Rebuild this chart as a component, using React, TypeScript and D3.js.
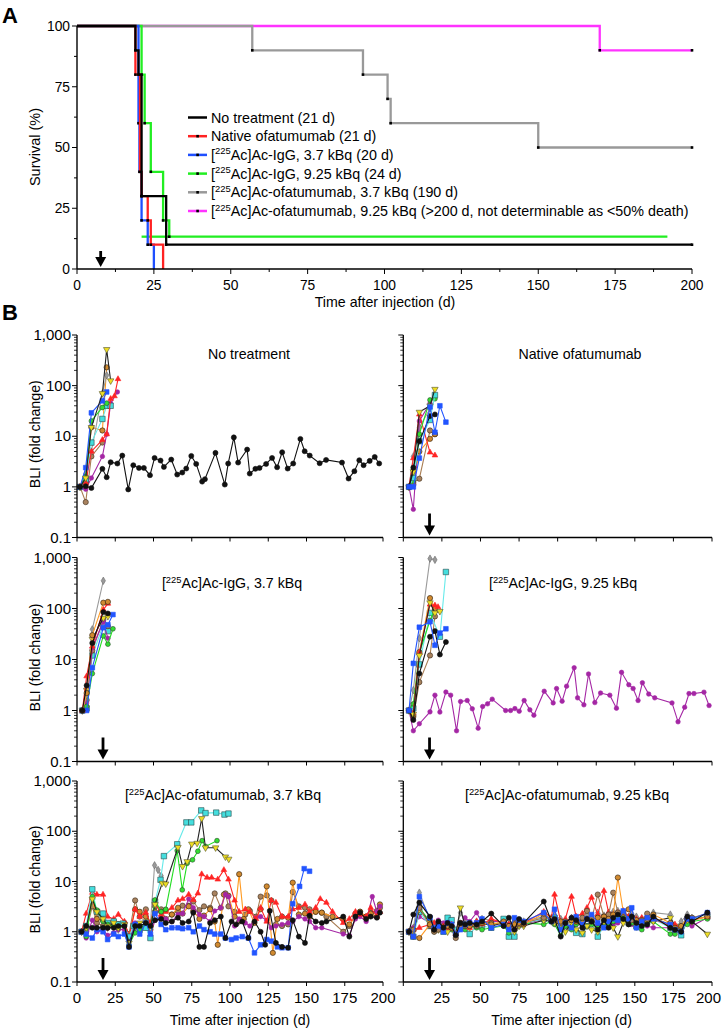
import React from 'react';
import * as d3 from 'd3';

type Pt = [number, number];

// ---------------- Panel A: survival ----------------
const survXTicks = [0, 25, 50, 75, 100, 125, 150, 175, 200];
const survYTicks = [0, 25, 50, 75, 100];

const survNoTreatment: Pt[] = [[0, 100], [19, 90], [20, 80], [21, 30], [29, 10]];
const survNative: Pt[] = [[0, 100], [19, 80], [20.5, 40], [21, 30], [23, 20], [24, 10], [28, 0]];
const survIgG37: Pt[] = [[0, 100], [20, 60], [20.3, 40], [21, 20], [23, 10], [25, 0]];
const survIgG925: Pt[] = [[0, 100], [21, 80], [22, 60], [24, 40], [28, 20], [30, 13.3]];
const survOfa37: Pt[] = [[0, 100], [57, 90], [93, 80], [101, 70], [102, 60], [150, 50]];
const survOfa925: Pt[] = [[0, 100], [170, 90]];
const survIgG925Tail: Pt[] = [[21, 13.3], [30, 13.3]];
const survEnds = [200, 28, 25, 192, 200, 200];
const survEndDots = [true, false, false, false, true, true];
const survNames = [
  'No treatment (21 d)',
  'Native ofatumumab (21 d)',
  '[225Ac]Ac-IgG, 3.7 kBq (20 d)',
  '[225Ac]Ac-IgG, 9.25 kBq (24 d)',
  '[225Ac]Ac-ofatumumab, 3.7 kBq (190 d)',
  '[225Ac]Ac-ofatumumab, 9.25 kBq (>200 d, not determinable as <50% death)',
];
const survColors = ['#000000', '#ff2222', '#1f4fff', '#22ee22', '#999999', '#ff33ff'];
const survCurves = [survNoTreatment, survNative, survIgG37, survIgG925, survOfa37, survOfa925];
const survArrowDay = 7.7;

// ---------------- Panel B: BLI ----------------
const bliYTicks = [0.1, 1, 10, 100, 1000];
const bliYTickLabels = ['0.1', '1', '10', '100', '1,000'];
const bliXTicks = [0, 25, 50, 75, 100, 125, 150, 175, 200];
const bliArrowDay = 17;

// No treatment
const p1Black: Pt[] = [[2, 1], [5.7, 1.03], [9.4, 0.95], [16.6, 2.27], [19.4, 1.55], [22, 3.07], [26.4, 2.89], [29.6, 4.15], [33.5, 0.89], [36.8, 2.68], [40.5, 2.37], [43.7, 2.37], [47.7, 1.7], [50.7, 3.73], [54.6, 3.31], [56.8, 2.48], [61.6, 3.46], [65.5, 1.75], [68.8, 1.92], [71.4, 2.3], [74.7, 4.09], [77.9, 2.84], [81.8, 1.27], [83.6, 1.42], [90.5, 4.69], [96.6, 1.11], [98.8, 2.89], [102.5, 9.5], [105.3, 3.02], [111.2, 5.46], [112.9, 1.83], [116.6, 2.27], [119.3, 2.37], [123.6, 2.84], [127.5, 3.73], [130.8, 2.44], [134.1, 4.83], [137.7, 2.3], [141.3, 2.89], [146, 8.86], [148.8, 5.06], [152.1, 4.15], [158.6, 2.93], [162.8, 3.41], [173.2, 3.02], [177.5, 1.46], [181.3, 2.04], [184.5, 3.36], [187.3, 2.68], [191.3, 3.26], [194.6, 3.9], [197.5, 2.9]];
const p1Red: Pt[] = [[2, 1], [5.7, 1.2], [9.4, 5], [16.6, 8.5], [19.4, 11], [22, 55], [24.5, 62], [26.8, 135]];
const p1Blue: Pt[] = [[2, 1], [5.7, 2.4], [9.4, 29], [16.6, 50], [19.4, 75]];
const p1Green: Pt[] = [[2, 1], [5.7, 1.6], [9.4, 20], [16.6, 37], [19.4, 45]];
const p1Cyan: Pt[] = [[2, 1], [5.7, 1.4], [9.4, 7.5], [16.6, 22], [19.4, 40], [22, 40]];
const p1Yellow: Pt[] = [[2, 1], [5.7, 1.5], [9.4, 15], [16.6, 70], [19.4, 520], [22, 125]];
const p1Orange: Pt[] = [[2, 1], [5.7, 1.2], [9.4, 15], [16.6, 13], [19.4, 230]];
const p1Purple: Pt[] = [[2, 1], [5.7, 0.9], [9.4, 1.5], [16.6, 4], [19.4, 11], [22, 45], [26.4, 75]];
const p1Tan: Pt[] = [[2, 1], [5.7, 0.5], [9.4, 4], [16.6, 7.5]];
const p1Gray: Pt[] = [[2, 1], [5.7, 1.8], [9.4, 5], [16.6, 70], [19.4, 160]];

// Native ofatumumab
const p2Black: Pt[] = [[3.7, 1], [6.5, 2.4], [10.4, 8], [17.3, 25], [20.5, 27]];
const p2Red: Pt[] = [[3.7, 1], [6.5, 3.7], [10.4, 27], [17.3, 4.8], [20.5, 4.2]];
const p2Blue: Pt[] = [[3.7, 1], [6.5, 1], [10.4, 3.7], [17.3, 38], [20.5, 12], [23.7, 40], [27.6, 19]];
const p2Green: Pt[] = [[3.7, 1], [6.5, 1.3], [10.4, 11], [17.3, 52], [20.5, 55]];
const p2Cyan: Pt[] = [[3.7, 1], [6.5, 1.5], [10.4, 8], [17.3, 21], [20.5, 65]];
const p2Yellow: Pt[] = [[3.7, 1], [6.5, 2], [10.4, 30], [17.3, 40], [20.5, 85]];
const p2Purple: Pt[] = [[3.7, 1], [6.5, 0.36], [10.4, 20], [17.3, 45]];
const p2Orange: Pt[] = [[3.7, 1], [6.5, 1.1], [10.4, 5], [17.3, 8.9], [20.5, 11]];
const p2Tan: Pt[] = [[3.7, 1], [6.5, 1.2], [10.4, 1.45], [17.3, 13], [20.5, 11]];
const p2Gray: Pt[] = [[3.7, 1], [6.5, 4], [10.4, 15], [17.3, 35]];

// IgG 3.7 kBq
const p3Black: Pt[] = [[3.5, 1], [6.3, 3.1], [10, 21], [17.2, 85], [20.2, 80]];
const p3Gray: Pt[] = [[3.5, 1], [6.3, 2], [10, 39], [17.2, 350]];
const p3Orange: Pt[] = [[3.5, 1], [6.3, 2.2], [10, 30], [17.2, 130], [20.2, 135]];
const p3Red: Pt[] = [[3.5, 1], [6.3, 4.7], [10, 18], [17.2, 95], [20.2, 125]];
const p3Blue: Pt[] = [[3.5, 1], [6.3, 1], [10, 6.9], [17.2, 42], [20.2, 48], [23.5, 76]];
const p3Green: Pt[] = [[3.5, 1], [6.3, 1.2], [10, 5.3], [17.2, 29], [20.2, 20], [23.5, 40]];
const p3Purple: Pt[] = [[3.5, 1], [6.3, 1.4], [10, 17], [17.2, 55], [20.2, 26]];
const p3Tan: Pt[] = [[3.5, 1], [6.3, 1.6], [10, 15], [17.2, 60], [20.2, 45]];
const p3Yellow: Pt[] = [[3.5, 1], [6.3, 2.5], [10, 25], [17.2, 65], [20.2, 70]];
const p3Cyan: Pt[] = [[3.5, 1], [6.3, 1.1], [10, 12], [17.2, 48], [20.2, 36]];

// IgG 9.25 kBq
const p4Purple: Pt[] = [[3.7, 1], [6.5, 0.4], [10.4, 0.55], [17.3, 0.94], [20.5, 2.0], [23.7, 0.93], [27.6, 2.3], [30.7, 2.0], [34.5, 0.4], [37.1, 1.5], [41.4, 1.57], [44.7, 1.08], [48.5, 0.45], [51.4, 1.2], [54.6, 1.35], [57.6, 1.67], [66.3, 1.0], [69.5, 1.0], [72.3, 1.09], [75.1, 0.97], [78.3, 1.57], [82, 1.03], [84.6, 0.81], [91.3, 2.39], [97.1, 1.41], [99.3, 2.7], [102.9, 1.52], [105.8, 3.0], [110.7, 6.9], [112.9, 1.77], [117, 1.29], [120, 5.2], [124.1, 1.43], [127.8, 2.2], [133.8, 2.0], [138.1, 1.11], [141.4, 5.6], [146.1, 3.2], [148.9, 2.7], [152.1, 1.57], [154.9, 3.5], [159, 2.1], [162.9, 1.77], [174.1, 1.41], [178, 0.6], [182.3, 1.16], [185.1, 2.15], [188.3, 2.15], [194.8, 2.29], [198.1, 1.25]];
const p4Gray: Pt[] = [[3.7, 1], [6.5, 2.5], [10.4, 26], [17.3, 950], [20.5, 900]];
const p4Cyan: Pt[] = [[3.7, 1], [6.5, 1.1], [10.4, 8], [17.3, 82], [23.7, 28], [27.6, 520]];
const p4Blue: Pt[] = [[3.7, 1], [6.5, 8.4], [10.4, 43], [17.3, 55], [20.5, 19], [23.7, 33], [27.6, 40]];
const p4Black: Pt[] = [[3.7, 1], [6.5, 0.65], [10.4, 5.3], [17.3, 28], [20.5, 36], [23.7, 12.5], [27.6, 22]];
const p4Orange: Pt[] = [[3.7, 1], [6.5, 0.8], [10.4, 14], [17.3, 160], [20.5, 98]];
const p4Red: Pt[] = [[3.7, 1], [6.5, 0.9], [10.4, 13.5], [17.3, 120], [20.5, 115], [22.5, 107]];
const p4Green: Pt[] = [[3.7, 1], [6.5, 1.35], [10.4, 13.5], [17.3, 58], [20.5, 98]];
const p4Yellow: Pt[] = [[3.7, 1], [6.5, 0.85], [10.4, 12], [17.3, 130], [20.5, 82], [23.7, 88]];
const p4Tan: Pt[] = [[3.7, 1], [6.5, 0.75], [10.4, 3.6], [17.3, 12], [20.5, 70]];

// Ofatumumab 3.7 kBq
const p5Cyan: Pt[] = [[3, 1], [6, 1.3], [10, 7], [13, 2.5], [17, 2.3], [20, 1.5], [24, 1.6], [27, 1.4], [30, 1.45], [34, 0.8], [37, 1.3], [41, 1.1], [45, 1.2], [48, 0.75], [51, 4], [54.6, 10.8], [56.8, 32], [65.5, 55], [71.5, 150], [74.7, 150], [81.2, 260], [84, 230], [91, 235], [96.4, 215], [99, 225]];
const p5Yellow: Pt[] = [[3, 1], [6, 1.2], [10, 4.5], [13, 2.5], [17, 1.8], [20, 1.3], [24, 1.5], [27, 1.2], [31, 1.4], [34, 0.6], [38, 1.3], [41, 1.5], [45, 1.6], [48, 1.2], [51, 3.5], [55.7, 9.3], [58, 9], [66, 48], [69, 20], [72, 25], [75, 56], [78.5, 58], [81.5, 180], [84, 47], [90.6, 47], [97, 31], [99.2, 28]];
const p5Green: Pt[] = [[3, 1], [6, 0.8], [10, 5], [13, 2.7], [17, 1.6], [20, 1.4], [24, 1.3], [27, 1.2], [31, 1.3], [34, 0.55], [38, 0.95], [41, 1.1], [45, 1.5], [48, 1.2], [51, 4.3], [55, 2.5], [58, 2.8], [65.5, 41], [68.8, 6.8], [72, 23], [75.5, 27], [79, 40], [81.8, 65], [84, 50], [91.5, 65]];
const p5Gray: Pt[] = [[3, 1], [6, 1.2], [10, 3.5], [13, 2], [17, 2.2], [20, 1.2], [24, 1.3], [27, 1.1], [31, 1.3], [34, 0.7], [38, 1.2], [41, 1.3], [45, 1.5], [48, 1.4], [50.7, 21], [53, 17], [55, 13]];
const p5Red: Pt[] = [[3, 1], [6, 2.3], [10, 6], [13, 5.5], [17, 5.5], [20, 2.0], [24, 1.8], [27, 2.2], [31, 1.6], [34, 0.8], [38, 2.8], [41, 2.0], [45, 2.4], [48, 1.5], [51, 3.8], [55, 2.2], [58, 2.5], [62, 3.0], [66, 4.2], [69, 4.5], [73, 5.5], [76, 4.3], [79, 5.8], [81.5, 14], [85, 12], [88, 12], [92, 11], [96, 17], [99, 11], [103, 4.2], [106, 2.5], [110, 2.8], [113, 2.5], [117, 1.8], [120, 3], [124, 1.6], [127, 4.2], [130, 3.8], [134, 2], [138, 2], [141, 2.8], [145, 3], [149, 3.5], [152, 2.5], [156, 3], [159, 4.5], [163, 3.8], [167, 2.5], [174, 1.5], [178, 1.8], [182, 2.5], [185, 2.2], [189, 2], [192, 3], [196, 2], [198, 2.5]];
const p5Blue: Pt[] = [[3, 1], [6, 0.9], [10, 0.75], [13, 1.1], [17, 1.0], [20, 0.7], [24, 0.9], [27, 0.8], [31, 0.9], [34, 0.5], [38, 1.4], [41, 0.9], [45, 1.5], [48, 0.9], [51, 2.3], [55, 1.4], [58, 1.1], [62, 1.2], [66, 1.2], [69, 1.15], [73, 1.2], [76, 1.0], [80, 1.3], [83, 1.1], [87, 1.0], [90, 0.9], [94, 0.9], [97, 0.75], [101, 0.7], [104, 0.75], [108, 0.8], [112, 0.75], [116, 0.38], [120, 0.55], [124, 0.7], [127, 0.65], [131, 0.5], [134, 0.48], [138, 0.48], [141, 3.6], [145.5, 8], [148.5, 18], [152, 16]];
const p5Black: Pt[] = [[3, 1], [6, 1.3], [10, 1.2], [13, 1.2], [17, 1.2], [20, 1.2], [24, 1.2], [27, 1.3], [31, 1.3], [34, 0.5], [38, 1.3], [41, 1.3], [45, 1.5], [48, 1.3], [51, 1.7], [55, 1.8], [58, 1.5], [62, 1.6], [66, 1.9], [69, 1.5], [73, 1.6], [76, 2.4], [80, 0.5], [83, 0.5], [87, 1.5], [90, 1.7], [94, 2.0], [97, 0.75], [101, 1.6], [104, 1.4], [108, 1.6], [112, 0.75], [116, 1.6], [120, 1.0], [123, 0.55], [126, 2.6], [130, 0.6], [134, 0.5], [138, 0.48], [141, 1.7], [145, 0.8], [149, 0.6], [152, 2.1], [156, 1.6], [160, 1.5], [163, 1.6], [174, 2.0], [178, 0.8], [182, 2.0], [185, 2.4], [189, 1.8], [192, 2.0], [196, 1.9], [198, 2.4]];
const p5Purple: Pt[] = [[3, 1], [6, 0.75], [10, 1.7], [13, 1.0], [17, 1.1], [20, 0.85], [24, 0.95], [27, 1.1], [31, 1.1], [34, 0.7], [38, 1.5], [41, 1.1], [45, 1.2], [48, 0.85], [51, 1.7], [55, 2.0], [58, 1.8], [62, 1.6], [66, 2.2], [69, 2.3], [73, 4.5], [76, 3], [80, 2.2], [83, 2.0], [87, 1.6], [90, 2.6], [94, 3], [97, 5.5], [99, 5.0], [103, 1.3], [106, 1.8], [110, 1.5], [113, 1.3], [117, 1.9], [120, 2], [124, 1.7], [127, 1.2], [130, 1.3], [134, 1.4], [138, 1.5], [141, 1.6], [145, 2], [149, 1.8], [152, 1.6], [156, 1.2], [160, 1.2], [174, 0.9], [178, 0.85], [182, 1.8], [185, 2.0], [189, 1.6], [193, 5], [196, 2.5], [198, 3.2]];
const p5Orange: Pt[] = [[3, 1], [6, 1.2], [10, 4.5], [13, 1.8], [17, 1.7], [20, 1.2], [24, 1.3], [27, 1.4], [31, 1.5], [34, 0.8], [38, 2.8], [41, 2.5], [45, 2.0], [48, 1.4], [51, 2.5], [55, 2.5], [58, 2.7], [62, 2.2], [66, 3.0], [69, 2.3], [73, 3.2], [76, 2.6], [80, 1.8], [83, 2.1], [87, 2.8], [90, 1.6], [92, 0.55], [96, 5.5], [99, 5.2], [103, 2.0], [106, 14], [109, 1.8], [112, 2.8], [116, 1.5], [120, 2.8], [124, 8], [128, 0.38], [131, 1.8], [134, 2.0], [138, 1.9], [141, 9.5], [145, 2.2], [149, 2.3], [152, 2.0], [156, 2.5], [160, 2.4], [167, 2.0], [174, 1.8], [178, 1.4], [182, 2.0], [185, 2.5], [189, 2.0], [192, 2.3], [196, 2.0], [198, 3.5]];
const p5Tan: Pt[] = [[3, 1], [6, 1.0], [10, 3.2], [13, 1.5], [17, 1.3], [20, 1.3], [24, 1.5], [27, 1.4], [31, 1.4], [34, 0.9], [38, 4.2], [41, 2.0], [45, 2.8], [48, 1.1], [51, 3.2], [55, 2.8], [58, 1.8], [62, 2.2], [66, 2.6], [69, 3.3], [73, 3.3], [76, 4.0], [80, 2.7], [83, 3.2], [87, 3.0], [90, 5.8], [94, 3.0], [97, 5.8], [99, 3.2], [103, 2.5], [106, 1.6], [110, 2.2], [113, 2.6], [117, 2.0], [120, 5.0], [124, 5.3], [127, 4.2], [130, 1.4], [134, 1.3], [138, 1.4], [141, 6.2], [145, 3.2], [149, 3.0], [152, 2.8], [156, 2.5], [160, 2.4], [163, 2.0], [174, 1.0], [178, 1.3], [182, 2.3], [185, 2.5], [189, 2.0], [192, 2.4], [196, 2.6], [198, 3.0]];

// Ofatumumab 9.25 kBq (shared imaging days)
const p6Days = [3.7, 6.5, 10.4, 17.3, 20, 22.7, 26, 28.7, 31.3, 34, 37, 40, 43, 47.5, 51, 57, 65, 68.4, 72, 75, 78, 91, 96, 98, 102, 105, 109, 112, 116, 119, 122, 126, 130, 133, 136, 139, 142.5, 146, 148, 151, 154.5, 158, 162, 173, 176, 180, 184, 187, 197];
const p6Black = [1, 2.2, 3.8, 2.0, 1.1, 1.6, 1.2, 1.5, 1.3, 0.85, 1.5, 1.4, 1.5, 1.4, 1.6, 2.3, 1.3, 1.9, 1.1, 1.8, 1.5, 4.0, 1.6, 1.8, 0.8, 1.5, 1.9, 1.7, 1.2, 1.8, 1.6, 1.1, 1.7, 1.2, 1.9, 2.2, 1.8, 1.4, 2.0, 1.5, 1.3, 1.4, 2.0, 1.2, 1.1, 1.0, 2.0, 1.6, 2.4];
const p6Red = [1, 1.1, 1.2, 1.4, 1.5, 1.2, 1.3, 1.2, 1.4, 0.9, 1.3, 1.3, 1.2, 1.6, 1.4, 1.8, 1.5, 1.4, 1.2, 1.6, 1.5, 2.5, 1.9, 5.5, 1.6, 1.8, 5.0, 2.0, 2.3, 3.0, 4.8, 2.2, 6.5, 2.4, 2.2, 2.4, 2.6, 2.0, 1.7, 1.8, 1.9, 2.0, 1.8, 1.3, 1.4, 1.1, 1.9, 1.7, 2.0];
const p6Blue = [1, 0.8, 5.0, 1.9, 1.2, 1.3, 1.0, 1.5, 1.4, 0.9, 1.1, 1.4, 1.5, 1.5, 1.8, 1.2, 1.4, 1.1, 1.9, 1.7, 1.6, 2.4, 1.6, 2.8, 1.1, 1.5, 1.2, 2.0, 1.4, 1.8, 2.2, 1.5, 1.2, 1.6, 1.8, 1.7, 2.6, 1.8, 3.0, 1.2, 1.6, 1.9, 1.8, 1.4, 1.1, 1.0, 1.8, 1.8, 2.4];
const p6Green = [1, 1.1, 3.0, 1.6, 1.0, 1.2, 1.3, 1.1, 1.1, 0.9, 1.3, 1.1, 1.3, 1.2, 1.1, 1.2, 1.3, 0.95, 1.5, 1.3, 1.5, 1.4, 1.6, 1.4, 0.85, 1.3, 1.1, 1.4, 1.6, 1.3, 1.4, 1.2, 1.5, 1.3, 1.6, 2.3, 2.0, 1.4, 1.5, 1.2, 1.1, 1.5, 1.6, 0.9, 0.9, 1.3, 1.4, 1.6, 1.8];
const p6Gray = [1, 1.2, 6.0, 1.7, 1.4, 1.3, 1.2, 1.4, 1.3, 0.9, 2.4, 1.6, 1.4, 1.6, 1.8, 1.7, 1.5, 1.4, 1.7, 1.5, 1.6, 2.0, 1.9, 2.1, 1.8, 1.6, 1.9, 1.8, 1.5, 2.3, 1.8, 2.4, 2.1, 2.4, 2.5, 2.6, 2.2, 2.0, 2.3, 2.0, 1.8, 2.0, 2.4, 2.2, 1.2, 1.6, 2.2, 1.9, 2.2];
const p6Cyan = [1, 0.8, 2.5, 1.3, 1.2, 1.3, 1.0, 1.9, 1.7, 1.1, 1.2, 1.3, 0.9, 1.3, 1.3, 1.2, 1.8, 0.8, 0.8, 1.4, 1.5, 1.8, 1.7, 1.9, 1.2, 1.3, 1.2, 0.95, 0.9, 1.3, 1.5, 0.8, 1.3, 1.5, 1.7, 1.9, 1.8, 1.5, 1.6, 1.3, 1.4, 1.6, 1.8, 1.2, 1.1, 0.85, 1.6, 1.8, 2.0];
const p6Yellow = [1, 1.0, 2.8, 1.5, 1.3, 1.1, 1.2, 1.0, 1.2, 0.9, 3.0, 1.3, 1.2, 1.4, 1.5, 1.3, 1.5, 1.2, 1.0, 1.3, 1.3, 1.7, 1.6, 1.5, 1.4, 1.0, 1.5, 1.1, 0.95, 1.3, 1.1, 1.0, 1.6, 1.8, 1.2, 0.8, 1.5, 2.0, 1.8, 1.3, 1.5, 1.6, 1.6, 1.9, 1.3, 1.1, 1.7, 1.6, 0.9];
const p6Purple = [1, 1.2, 2.0, 1.5, 1.4, 1.7, 1.5, 1.3, 1.5, 0.9, 1.4, 1.9, 1.6, 2.4, 1.5, 1.6, 1.6, 1.4, 1.5, 1.5, 1.4, 1.8, 1.7, 1.5, 1.6, 1.5, 1.9, 1.4, 1.6, 1.3, 1.7, 1.4, 1.5, 1.5, 1.4, 1.5, 1.6, 1.7, 1.4, 1.6, 1.3, 1.3, 1.2, 1.2, 1.0, 1.1, 1.6, 1.3, 1.9];
const p6Orange = [1, 0.8, 0.75, 1.4, 1.1, 1.4, 1.2, 1.3, 1.2, 0.9, 1.5, 1.4, 1.3, 1.4, 1.5, 1.4, 1.6, 1.3, 1.4, 1.5, 1.4, 2.3, 1.8, 1.7, 1.6, 1.5, 1.7, 1.6, 1.5, 1.8, 1.6, 1.9, 2.0, 1.8, 2.2, 12, 2.5, 2.8, 2.0, 1.7, 1.6, 1.8, 2.2, 1.5, 1.2, 1.3, 1.9, 1.7, 2.0];
const p6Tan = [1, 1.1, 3.0, 1.3, 1.0, 1.1, 1.2, 1.4, 1.3, 0.75, 1.2, 1.3, 1.4, 1.3, 1.6, 1.5, 1.4, 1.3, 1.5, 1.4, 1.5, 1.9, 1.8, 1.7, 1.5, 1.6, 1.7, 1.6, 1.9, 2.6, 1.8, 5.5, 2.0, 2.2, 6.0, 2.4, 2.3, 1.8, 1.7, 1.6, 1.7, 2.3, 1.9, 1.4, 1.1, 1.2, 1.8, 1.9, 2.3];

const zipDays = (vals: number[]): Pt[] => vals.map((v, i) => [p6Days[i], v] as Pt).filter(d => d[0] !== undefined);

type Style = { line: string; fill: string; stroke: string; shape: string; size: number };
const STY: Record<string, Style> = {
  black: { line: '#111111', fill: '#111111', stroke: '#111111', shape: 'circle', size: 20 },
  red: { line: '#ff2424', fill: '#ff2424', stroke: '#ff2424', shape: 'triangle', size: 14 },
  blue: { line: '#2255ff', fill: '#2255ff', stroke: '#2255ff', shape: 'square', size: 22 },
  green: { line: '#22dd22', fill: '#33dd33', stroke: '#2a4a2a', shape: 'circle', size: 18 },
  gray: { line: '#9a9a9a', fill: '#9a9a9a', stroke: '#6a6a6a', shape: 'diamond', size: 16 },
  cyan: { line: '#66eaea', fill: '#44dede', stroke: '#2a4a4a', shape: 'square', size: 30 },
  yellow: { line: '#222222', fill: '#eedd22', stroke: '#555533', shape: 'triangleDown', size: 18 },
  orange: { line: '#ff9a22', fill: '#d08a30', stroke: '#2a1a0a', shape: 'circle', size: 22 },
  tan: { line: '#a87c52', fill: '#a8825e', stroke: '#3a2a1a', shape: 'circle', size: 22 },
  purple: { line: '#a426a4', fill: '#a426a4', stroke: '#a426a4', shape: 'circle', size: 16 },
};

type Series = [string, Pt[]];
const panel1: Series[] = [['tan', p1Tan], ['purple', p1Purple], ['orange', p1Orange], ['gray', p1Gray], ['cyan', p1Cyan], ['green', p1Green], ['red', p1Red], ['blue', p1Blue], ['yellow', p1Yellow], ['black', p1Black]];
const panel2: Series[] = [['tan', p2Tan], ['orange', p2Orange], ['gray', p2Gray], ['purple', p2Purple], ['red', p2Red], ['green', p2Green], ['cyan', p2Cyan], ['yellow', p2Yellow], ['black', p2Black], ['blue', p2Blue]];
const panel3: Series[] = [['cyan', p3Cyan], ['tan', p3Tan], ['purple', p3Purple], ['yellow', p3Yellow], ['gray', p3Gray], ['green', p3Green], ['blue', p3Blue], ['red', p3Red], ['orange', p3Orange], ['black', p3Black]];
const panel4: Series[] = [['purple', p4Purple], ['tan', p4Tan], ['gray', p4Gray], ['cyan', p4Cyan], ['green', p4Green], ['orange', p4Orange], ['red', p4Red], ['yellow', p4Yellow], ['black', p4Black], ['blue', p4Blue]];
const panel5: Series[] = [['gray', p5Gray], ['tan', p5Tan], ['orange', p5Orange], ['purple', p5Purple], ['red', p5Red], ['cyan', p5Cyan], ['green', p5Green], ['yellow', p5Yellow], ['blue', p5Blue], ['black', p5Black]];
const panel6: Series[] = [['gray', zipDays(p6Gray)], ['purple', zipDays(p6Purple)], ['cyan', zipDays(p6Cyan)], ['green', zipDays(p6Green)], ['yellow', zipDays(p6Yellow)], ['red', zipDays(p6Red)], ['tan', zipDays(p6Tan)], ['orange', zipDays(p6Orange)], ['blue', zipDays(p6Blue)], ['black', zipDays(p6Black)]];

const panelTitles = ['No treatment', 'Native ofatumumab', '[225Ac]Ac-IgG, 3.7 kBq', '[225Ac]Ac-IgG, 9.25 kBq', '[225Ac]Ac-ofatumumab, 3.7 kBq', '[225Ac]Ac-ofatumumab, 9.25 kBq'];
const panelSeries = [panel1, panel2, panel3, panel4, panel5, panel6];
const panelArrows = [false, true, true, true, true, true];

// ---------------- layout ----------------
const FONT = "'Liberation Sans', Arial, Helvetica, sans-serif";
const COLS = [{ x0: 77, x1: 383 }, { x0: 403.3, x1: 712 }];
const ROWS = [{ t: 335, b: 537.5 }, { t: 557.5, b: 761.5 }, { t: 781, b: 982 }];
const TITLE_POS = [[249, 359], [580, 359], [232, 588], [563, 588], [223, 800], [567, 800]];

function Label({ text, size }: { text: string; size: number }) {
  const m = text.match(/^\[(\d+)(.*)$/);
  if (!m) return <>{text}</>;
  const sup = size * 0.66;
  return (
    <>
      [<tspan fontSize={sup} dy={-size * 0.38}>{m[1]}</tspan>
      <tspan fontSize={size} dy={size * 0.38}>{m[2]}</tspan>
    </>
  );
}

function Arrow({ x, tip, len }: { x: number; tip: number; len: number }) {
  return (
    <g>
      <line x1={x} x2={x} y1={tip - len} y2={tip - 8} stroke="#000" strokeWidth={2.8} />
      <path d={`M${x - 5.5},${tip - 10}L${x + 5.5},${tip - 10}L${x},${tip}Z`} fill="#000" />
    </g>
  );
}

function Marker({ x, y, st }: { x: number; y: number; st: Style }) {
  const type = st.shape === 'circle' ? d3.symbolCircle : st.shape === 'square' ? d3.symbolSquare : st.shape === 'diamond' ? d3.symbolDiamond : d3.symbolTriangle;
  const d = d3.symbol().type(type).size(st.size)() || '';
  const rot = st.shape === 'triangleDown' ? ' rotate(180)' : '';
  return <path d={d} transform={`translate(${x},${y})${rot}`} fill={st.fill} stroke={st.stroke} strokeWidth={0.6} />;
}

function SurvivalPanel() {
  const x = d3.scaleLinear().domain([0, 200]).range([77, 692]);
  const y = d3.scaleLinear().domain([0, 100]).range([269, 26]);
  const line = d3.line<Pt>().x(d => x(d[0])).y(d => y(d[1])).curve(d3.curveStepAfter);
  const minorX = d3.range(0, 201, 12.5);
  const minorY = d3.range(0, 101, 12.5);
  const order = [5, 4, 3, 2, 1, 0];
  const legendY = (i: number) => 117.5 + i * 18.7;
  return (
    <g>
      <text x={2} y={23} fontSize={22} fontWeight="bold" fontFamily={FONT}>A</text>
      {order.map(i => {
        const pts = survCurves[i];
        const last = pts[pts.length - 1];
        const full: Pt[] = survEnds[i] > last[0] ? [...pts, [survEnds[i], last[1]]] : pts;
        const dots: Pt[] = pts.slice(1).filter(p => p[1] > 0);
        if (survEndDots[i]) dots.push([survEnds[i], last[1]]);
        return (
          <g key={i}>
            {i === 3 && <path d={d3.line<Pt>().x(d => x(d[0])).y(d => y(d[1]))(survIgG925Tail) || ''} stroke={survColors[i]} strokeWidth={2.3} fill="none" />}
            <path d={line(full) || ''} stroke={survColors[i]} strokeWidth={2.3} fill="none" />
            {dots.map((p, j) => <rect key={j} x={x(p[0]) - 1.3} y={y(p[1]) - 1.3} width={2.6} height={2.6} fill="#000" />)}
          </g>
        );
      })}
      {/* axes */}
      <line x1={77} x2={77} y1={26} y2={269} stroke="#000" strokeWidth={1.4} />
      <line x1={77} x2={692} y1={269} y2={269} stroke="#000" strokeWidth={1.4} />
      {minorX.map(v => <line key={'mx' + v} x1={x(v)} x2={x(v)} y1={269} y2={269 + (v % 25 === 0 ? 5 : 3)} stroke="#000" strokeWidth={1} />)}
      {minorY.map(v => <line key={'my' + v} x1={77} x2={77 - (v % 25 === 0 ? 5 : 3)} y1={y(v)} y2={y(v)} stroke="#000" strokeWidth={1} />)}
      {survXTicks.map(v => <text key={'tx' + v} x={x(v)} y={290} fontSize={13.8} textAnchor="middle" fontFamily={FONT}>{v}</text>)}
      {survYTicks.map(v => <text key={'ty' + v} x={70} y={y(v) + 4.8} fontSize={13.8} textAnchor="end" fontFamily={FONT}>{v}</text>)}
      <text x={385} y={307} fontSize={14.2} textAnchor="middle" fontFamily={FONT}>Time after injection (d)</text>
      <text transform={`translate(40,${147}) rotate(-90)`} fontSize={14.5} textAnchor="middle" fontFamily={FONT}>Survival (%)</text>
      <Arrow x={x(survArrowDay)} tip={267} len={16} />
      {/* legend */}
      {survNames.map((n, i) => (
        <g key={'lg' + i}>
          <line x1={188} x2={207} y1={legendY(i)} y2={legendY(i)} stroke={survColors[i]} strokeWidth={2.5} />
          {i > 0 && <rect x={196.3} y={legendY(i) - 1.3} width={2.6} height={2.6} fill="#000" />}
          <text x={211} y={legendY(i) + 5} fontSize={14.3} fontFamily={FONT}><Label text={n} size={14.3} /></text>
        </g>
      ))}
    </g>
  );
}

function BliPanel({ idx }: { idx: number }) {
  const col = COLS[idx % 2];
  const row = ROWS[Math.floor(idx / 2)];
  const rowI = Math.floor(idx / 2);
  const x = d3.scaleLinear().domain([0, 200]).range([col.x0, col.x1]);
  const y = d3.scaleLog().domain([0.1, 1000]).range([row.b, row.t]);
  const line = d3.line<Pt>().x(d => x(d[0])).y(d => y(d[1]));
  const minor: number[] = [];
  [0.1, 1, 10, 100].forEach(dec => { for (let k = 2; k <= 9; k++) minor.push(dec * k); });
  const isLeft = idx % 2 === 0;
  const showXLabels = rowI === 2;
  return (
    <g>
      {panelSeries[idx].map(([key, pts], i) => {
        const st = STY[key];
        return (
          <g key={i}>
            <path d={line(pts) || ''} stroke={st.line} strokeWidth={1.1} fill="none" />
            {pts.map((p, j) => <Marker key={j} x={x(p[0])} y={y(p[1])} st={st} />)}
          </g>
        );
      })}
      <line x1={col.x0} x2={col.x0} y1={row.t} y2={row.b} stroke="#000" strokeWidth={1.3} />
      <line x1={col.x0} x2={col.x1} y1={row.b} y2={row.b} stroke="#000" strokeWidth={1.3} />
      {bliYTicks.map(v => <line key={'yt' + v} x1={col.x0} x2={col.x0 - 5} y1={y(v)} y2={y(v)} stroke="#000" strokeWidth={1} />)}
      {minor.map(v => <line key={'ym' + v} x1={col.x0} x2={col.x0 - 3} y1={y(v)} y2={y(v)} stroke="#000" strokeWidth={0.8} />)}
      {bliXTicks.map(v => <line key={'xt' + v} x1={x(v)} x2={x(v)} y1={row.b} y2={row.b + 4} stroke="#000" strokeWidth={1} />)}
      {isLeft && bliYTicks.map((v, i) => <text key={'yl' + v} x={col.x0 - 6} y={y(v) + 5.2} fontSize={15} textAnchor="end" fontFamily={FONT}>{bliYTickLabels[i]}</text>)}
      {isLeft && <text transform={`translate(40,${(row.t + row.b) / 2 - 2}) rotate(-90)`} fontSize={14.2} textAnchor="middle" fontFamily={FONT}>BLI (fold change)</text>}
      {showXLabels && bliXTicks.filter(v => isLeft || v > 0).map(v => {
        const atEdge = !isLeft && v === 200;
        return <text key={'xl' + v} x={atEdge ? 721 : x(v)} y={1003} fontSize={15} textAnchor={atEdge ? 'end' : 'middle'} fontFamily={FONT}>{v}</text>;
      })}
      {showXLabels && <text x={(col.x0 + col.x1) / 2 + (isLeft ? 10 : 4)} y={1025} fontSize={14.2} textAnchor="middle" fontFamily={FONT}>Time after injection (d)</text>}
      <text x={TITLE_POS[idx][0]} y={TITLE_POS[idx][1]} fontSize={14.2} textAnchor="middle" fontFamily={FONT}><Label text={panelTitles[idx]} size={14.2} /></text>
      {panelArrows[idx] && <Arrow x={x(bliArrowDay)} tip={row.b - 2} len={22} />}
    </g>
  );
}

export default function App() {
  return (
    <svg width={722} height={1029} viewBox="0 0 722 1029" style={{ position: 'absolute', left: 0, top: 0, background: '#fff' }} fontFamily={FONT}>
      <rect width={722} height={1029} fill="#fff" />
      <SurvivalPanel />
      <text x={2} y={320} fontSize={22} fontWeight="bold" fontFamily={FONT}>B</text>
      {[0, 1, 2, 3, 4, 5].map(i => <BliPanel key={i} idx={i} />)}
    </svg>
  );
}
